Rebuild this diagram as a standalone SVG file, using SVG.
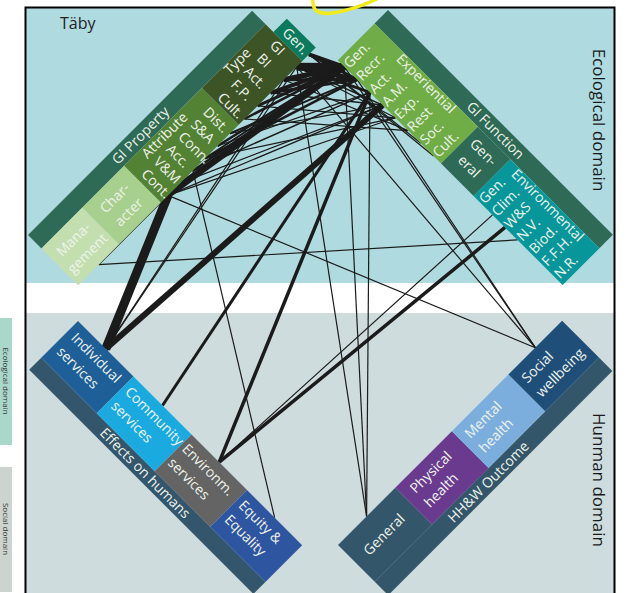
<svg xmlns="http://www.w3.org/2000/svg" width="628" height="593" viewBox="0 0 628 593">
<style>
.t{font-family:"Open Sans","Liberation Sans",sans-serif;font-size:14px;fill:#EEF3EA}
.m{text-anchor:middle}
.dom{font-family:"Open Sans","Liberation Sans",sans-serif;font-size:17px;fill:#1A1A1A;text-anchor:middle}
.side{font-family:"Open Sans","Liberation Sans",sans-serif;font-size:8px;fill:#333;text-anchor:middle}
#connectors line{stroke:#1B1B1B;stroke-linecap:butt}
</style>
<rect width="628" height="593" fill="#FFFFFF"/>
<!-- side legend strip -->
<rect x="0" y="318" width="12" height="127" fill="#A9D8CB"/>
<rect x="0" y="467" width="12" height="125" fill="#CDD3CF"/>
<text class="side" transform="translate(3,381) rotate(90)">Ecological domain</text>
<text class="side" transform="translate(3,529) rotate(90)">Social domain</text>
<!-- domain backgrounds -->
<rect x="26" y="8" width="588" height="275" fill="#AFDADF"/>
<rect x="26" y="313" width="588" height="282" fill="#CEDCDE"/>
<rect x="25.5" y="7.5" width="589" height="600" fill="none" stroke="#000" stroke-width="2"/>
<text x="60" y="28.5" style="font-family:'Open Sans','Liberation Sans',sans-serif;font-size:16px;fill:#222">Täby</text>
<text class="dom" transform="translate(593,120) rotate(90)">Ecological domain</text>
<text class="dom" transform="translate(593,480) rotate(90)">Hunman domain</text>
<path d="M313,0 C312,10 318,15 332,13 C348,11 362,6 377,-1" fill="none" stroke="#F2EA1A" stroke-width="3.5"/>

<g id="connectors">
<line x1="105.8" y1="348.8" x2="168" y2="195.4" stroke-width="9"/>
<line x1="105.8" y1="348.8" x2="382.7" y2="105.1" stroke-width="6"/>
<line x1="105.8" y1="348.8" x2="296.7" y2="66.7" stroke-width="1.2"/>
<line x1="105.8" y1="348.8" x2="283.6" y2="79.8" stroke-width="1.2"/>
<line x1="162.5" y1="405.5" x2="370" y2="92.4" stroke-width="3"/>
<line x1="219.2" y1="462.2" x2="370" y2="92.4" stroke-width="3.5"/>
<line x1="219.2" y1="462.2" x2="505" y2="227.4" stroke-width="3.5"/>
<line x1="219.2" y1="462.2" x2="492.5" y2="214.9" stroke-width="1.2"/>
<line x1="274.6" y1="517.6" x2="192.8" y2="170.7" stroke-width="1.2"/>
<line x1="366.6" y1="516.4" x2="296.7" y2="66.7" stroke-width="1.2"/>
<line x1="366.6" y1="516.4" x2="344.5" y2="66.9" stroke-width="1.2"/>
<line x1="366.6" y1="516.4" x2="370" y2="92.4" stroke-width="1.2"/>
<line x1="535.3" y1="347.7" x2="168" y2="195.4" stroke-width="1.2"/>
<line x1="535.3" y1="347.7" x2="296.7" y2="66.7" stroke-width="1.2"/>
<line x1="535.3" y1="347.7" x2="344.5" y2="66.9" stroke-width="1.2"/>
<line x1="535.3" y1="347.7" x2="357.2" y2="79.6" stroke-width="1.2"/>
<line x1="98.7" y1="264.7" x2="168" y2="195.4" stroke-width="1.2"/>
<line x1="98.7" y1="264.7" x2="517.5" y2="239.9" stroke-width="1.2"/>
<line x1="296.7" y1="66.7" x2="344.5" y2="66.9" stroke-width="8"/>
<line x1="296.7" y1="66.7" x2="357.2" y2="79.6" stroke-width="5"/>
<line x1="283.6" y1="79.8" x2="344.5" y2="66.9" stroke-width="5"/>
<line x1="283.6" y1="79.8" x2="357.2" y2="79.6" stroke-width="3"/>
<line x1="270.6" y1="92.8" x2="344.5" y2="66.9" stroke-width="4"/>
<line x1="309" y1="54.3" x2="344.5" y2="66.9" stroke-width="4"/>
<line x1="309" y1="54.3" x2="357.2" y2="79.6" stroke-width="3"/>
<line x1="296.7" y1="66.7" x2="370" y2="92.4" stroke-width="3"/>
<line x1="257.5" y1="105.9" x2="344.5" y2="66.9" stroke-width="3"/>
<line x1="244.4" y1="119" x2="344.5" y2="66.9" stroke-width="2.5"/>
<line x1="270.6" y1="92.8" x2="357.2" y2="79.6" stroke-width="3"/>
<line x1="168" y1="195.4" x2="344.5" y2="66.9" stroke-width="6"/>
<line x1="180.3" y1="183.1" x2="344.5" y2="66.9" stroke-width="3"/>
<line x1="192.8" y1="170.7" x2="344.5" y2="66.9" stroke-width="2.5"/>
<line x1="205.1" y1="158.3" x2="357.2" y2="79.6" stroke-width="2.5"/>
<line x1="217.5" y1="146" x2="344.5" y2="66.9" stroke-width="2.5"/>
<line x1="229.9" y1="133.5" x2="357.2" y2="79.6" stroke-width="2"/>
<line x1="205.1" y1="158.3" x2="344.5" y2="66.9" stroke-width="2"/>
<line x1="296.7" y1="66.7" x2="382.7" y2="105.1" stroke-width="1.5"/>
<line x1="296.7" y1="66.7" x2="395.4" y2="117.8" stroke-width="1.2"/>
<line x1="283.6" y1="79.8" x2="408.2" y2="130.6" stroke-width="1.2"/>
<line x1="309" y1="54.3" x2="420.9" y2="143.3" stroke-width="1.2"/>
<line x1="309" y1="54.3" x2="433.6" y2="156" stroke-width="1.2"/>
<line x1="270.6" y1="92.8" x2="382.7" y2="105.1" stroke-width="1.5"/>
<line x1="257.5" y1="105.9" x2="395.4" y2="117.8" stroke-width="1.2"/>
<line x1="244.4" y1="119" x2="408.2" y2="130.6" stroke-width="1.2"/>
<line x1="168" y1="195.4" x2="382.7" y2="105.1" stroke-width="1.2"/>
<line x1="168" y1="195.4" x2="395.4" y2="117.8" stroke-width="1.2"/>
<line x1="180.3" y1="183.1" x2="382.7" y2="105.1" stroke-width="1.2"/>
<line x1="192.8" y1="170.7" x2="370" y2="92.4" stroke-width="1.5"/>
<line x1="217.5" y1="146" x2="370" y2="92.4" stroke-width="1.2"/>
<line x1="229.9" y1="133.5" x2="382.7" y2="105.1" stroke-width="1.2"/>
<line x1="205.1" y1="158.3" x2="395.4" y2="117.8" stroke-width="1.2"/>
</g>

<!-- GI Property group -->
<g id="gi-property" transform="translate(28,235) rotate(-45)">
<rect x="0" y="0" width="317" height="19" fill="#2E6A55"/>
<text class="t m" x="150" y="14">GI Property</text>
<g id="management"><rect x="0" y="19" width="58" height="52" fill="#C3DFB0"/>
<text class="t m" x="29" y="40">Mana-</text><text class="t m" x="29" y="60">gement</text></g>
<g id="character"><rect x="58" y="19" width="59" height="52" fill="#A7CF8D"/>
<text class="t m" x="87.5" y="40">Char-</text><text class="t m" x="87.5" y="60">acter</text></g>
<g id="attribute"><rect x="117" y="19" width="110" height="52" fill="#548235"/>
<text class="t m" x="167" y="31">Attribute</text>
<text class="t" transform="translate(122,37) rotate(90)">Cont.</text>
<text class="t" transform="translate(139.5,37) rotate(90)">V&amp;M</text>
<text class="t" transform="translate(157,37) rotate(90)">Acc.</text>
<text class="t" transform="translate(174.5,37) rotate(90)">Conn.</text>
<text class="t" transform="translate(192,37) rotate(90)">S&amp;A</text>
<text class="t" transform="translate(209.5,37) rotate(90)">Dist.</text></g>
<g id="type"><rect x="227" y="19" width="90" height="52" fill="#3D5426"/>
<text class="t m" x="271" y="30">Type</text>
<text class="t" transform="translate(230,37) rotate(90)">Cult.</text>
<text class="t" transform="translate(248.5,37) rotate(90)">F.P.</text>
<text class="t" transform="translate(267,37) rotate(90)">Act.</text>
<text class="t" transform="translate(285.5,37) rotate(90)">BI</text>
<text class="t" transform="translate(304,37) rotate(90)">GI</text></g>
<g id="gen-property"><rect x="317" y="30" width="19" height="41" fill="#0B7A5D"/>
<text class="t" transform="translate(321.5,37) rotate(90)">Gen.</text></g>
</g>

<!-- GI Function group -->
<g id="gi-function" transform="translate(388,10) rotate(45)">
<rect x="0" y="0" width="318" height="19" fill="#2E6A55"/>
<text class="t m" x="161" y="14">GI Function</text>
<g id="experiential"><rect x="0" y="19" width="146" height="52" fill="#70AD47"/>
<text class="t m" x="79" y="30">Experiential</text>
<text class="t" transform="translate(14.5,69) rotate(-90)">Gen.</text>
<text class="t" transform="translate(32.5,69) rotate(-90)">Recr.</text>
<text class="t" transform="translate(50.5,69) rotate(-90)">Act.</text>
<text class="t" transform="translate(68.5,69) rotate(-90)">A.M.</text>
<text class="t" transform="translate(86.5,69) rotate(-90)">Exp.</text>
<text class="t" transform="translate(104.5,69) rotate(-90)">Rest</text>
<text class="t" transform="translate(122.5,69) rotate(-90)">Soc.</text>
<text class="t" transform="translate(140.5,69) rotate(-90)">Cult.</text></g>
<g id="general-function"><rect x="146" y="19" width="46" height="52" fill="#2E6A55"/>
<text class="t m" x="168" y="38">Gen-</text><text class="t m" x="168" y="58">eral</text></g>
<g id="environmental"><rect x="192" y="19" width="126" height="52" fill="#07979A"/>
<text class="t m" x="251" y="30">Environmental</text>
<text class="t" transform="translate(206,69) rotate(-90)">Gen.</text>
<text class="t" transform="translate(223.7,69) rotate(-90)">Clim.</text>
<text class="t" transform="translate(241.4,69) rotate(-90)">W&amp;S</text>
<text class="t" transform="translate(259.1,69) rotate(-90)">N.V.</text>
<text class="t" transform="translate(276.8,69) rotate(-90)">Biod.</text>
<text class="t" transform="translate(294.5,69) rotate(-90)">F.F.H.</text>
<text class="t" transform="translate(312.2,69) rotate(-90)">N.R.</text></g>
</g>

<!-- Effects on humans group -->
<g id="effects-on-humans" transform="translate(78,321) rotate(45)">
<rect x="0" y="52" width="317" height="17" fill="#33566C"/>
<text class="t m" x="155" y="65">Effects on humans</text>
<g id="individual"><rect x="0" y="0" width="78.5" height="52" fill="#1F5F98"/>
<text class="t" x="7" y="18">Individual</text><text class="t" x="7" y="38">services</text></g>
<g id="community"><rect x="78.5" y="0" width="82" height="52" fill="#1AAAE0"/>
<text class="t" x="83.5" y="18">Community</text><text class="t" x="83.5" y="38">services</text></g>
<g id="environm"><rect x="160.5" y="0" width="78.5" height="52" fill="#646464"/>
<text class="t" x="164" y="18">Environm.</text><text class="t" x="164" y="38">services</text></g>
<g id="equity"><rect x="239" y="0" width="78" height="52" fill="#2E559F"/>
<text class="t" x="244" y="18">Equity &amp;</text><text class="t" x="244" y="38">Equality</text></g>
</g>

<!-- HH&W Outcome group -->
<g id="hhw-outcome" transform="translate(338,545) rotate(-45)">
<rect x="0" y="52" width="317" height="19" fill="#34566B"/>
<text class="t m" x="151" y="66.5">HH&amp;W Outcome</text>
<g id="general-outcome"><rect x="0" y="0" width="81" height="52" fill="#34566B"/>
<text class="t m" x="40" y="30">General</text></g>
<g id="physical"><rect x="81" y="0" width="80" height="52" fill="#6A3A8F"/>
<text class="t" x="91" y="19">Physical</text><text class="t" x="91" y="39">health</text></g>
<g id="mental"><rect x="161" y="0" width="80" height="52" fill="#7BAEDD"/>
<text class="t" x="168.5" y="19">Mental</text><text class="t" x="168.5" y="39">health</text></g>
<g id="social"><rect x="241" y="0" width="76" height="52" fill="#1F4E79"/>
<text class="t" x="248" y="20">Social</text><text class="t" x="248" y="40">wellbeing</text></g>
</g>
</svg>
